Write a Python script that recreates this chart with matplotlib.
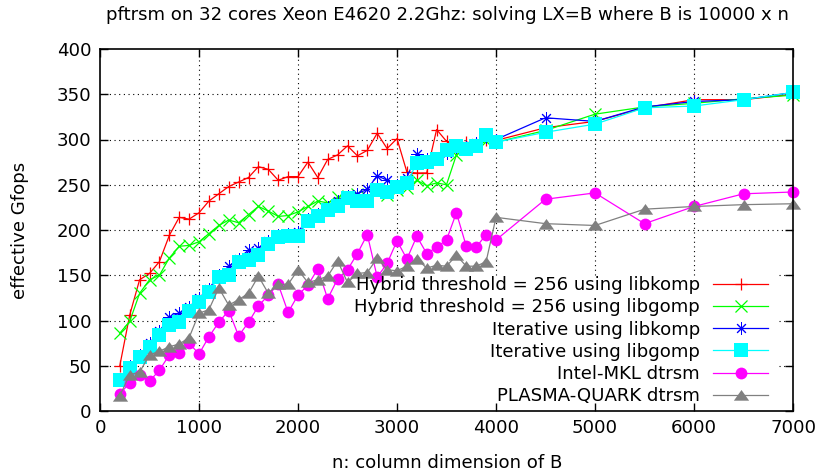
import matplotlib
matplotlib.use("Agg")
import matplotlib.pyplot as plt

n = [200, 300, 400, 500, 600, 700, 800, 900, 1000, 1100, 1200, 1300, 1400, 1500,
     1600, 1700, 1800, 1900, 2000, 2100, 2200, 2300, 2400, 2500, 2600, 2700, 2800,
     2900, 3000, 3100, 3200, 3300, 3400, 3500, 3600, 3700, 3800, 3900, 4000,
     4500, 5000, 5500, 6000, 6500, 7000]

hybrid_komp = [50, 106, 145, 152, 165, 194, 214, 212, 219, 232, 240, 248, 253, 258,
               270, 267, 255, 259, 259, 275, 258, 278, 283, 293, 282, 288, 307,
               290, 301, 264, 263, 263, 311, 298, 292, 297, 295, 300, 299,
               313, 320, 335, 344, 344, 350]
hybrid_gomp = [86, 99, 130, 145, 150, 169, 182, 183, 187, 196, 205, 211, 208, 217,
               226, 221, 215, 216, 220, 226, 232, 230, 236, 238, 240, 237, 243,
               239, 244, 246, 255, 249, 252, 250, 283, 290, 293, 298, 297,
               310, 328, 336, 340, 345, 349]
iter_komp = [35, 50, 62, 75, 88, 104, 108, 115, 125, 135, 150, 160, 168, 178,
             180, 188, 195, 196, 198, 212, 218, 225, 232, 238, 240, 245, 260,
             255, 250, 258, 284, 278, 280, 285, 292, 292, 296, 303, 300,
             324, 320, 336, 342, 344, 352]
iter_gomp = [34, 47, 60, 71, 84, 95, 98, 110, 120, 132, 148, 150, 165, 167,
             172, 185, 192, 193, 193, 210, 215, 222, 226, 235, 232, 232, 244,
             242, 248, 252, 274, 275, 278, 288, 293, 290, 293, 305, 297,
             308, 317, 335, 337, 344, 352]
mkl = [19, 31, 40, 33, 45, 62, 64, 75, 63, 82, 98, 111, 83, 98,
       116, 128, 140, 109, 128, 139, 157, 124, 146, 156, 174, 195, 148,
       163, 188, 168, 193, 174, 181, 189, 219, 182, 181, 195, 189,
       234, 241, 207, 226, 240, 242]
quark = [17, 40, 43, 62, 66, 71, 74, 81, 108, 112, 136, 117, 123, 130,
         149, 130, 140, 140, 156, 142, 145, 149, 166, 142, 152, 153, 169,
         156, 155, 160, 168, 158, 161, 160, 172, 160, 160, 165, 214,
         207, 205, 223, 226, 228, 229]

labels = ["Hybrid threshold = 256 using libkomp",
          "Hybrid threshold = 256 using libgomp",
          "Iterative using libkomp",
          "Iterative using libgomp",
          "Intel-MKL dtrsm",
          "PLASMA-QUARK dtrsm"]
xticks = [0, 1000, 2000, 3000, 4000, 5000, 6000, 7000]
yticks = [0, 50, 100, 150, 200, 250, 300, 350, 400]

plt.rcParams['font.family'] = ['DejaVu Sans']
FS = 13.1
W, H = 817, 475
fig = plt.figure(figsize=(W / 100, H / 100), dpi=100)
ax = fig.add_axes([100 / W, 1 - 411 / H, 693 / W, 362 / H])
ax.set_xlim(0, 7000)
ax.set_ylim(0, 400)

# grid (hidden behind the key area, like gnuplot)
gkw = dict(color='black', lw=0.8, ls=(0, (1, 3.2)), zorder=1)
key_x0, key_x1, key_y1 = 1790, 6855, 150.5
for yv in yticks[1:-1]:
    if yv <= key_y1:
        ax.plot([0, key_x0], [yv, yv], **gkw)
        ax.plot([key_x1, 7000], [yv, yv], **gkw)
    else:
        ax.plot([0, 7000], [yv, yv], **gkw)
for xv in xticks[1:-1]:
    if key_x0 <= xv <= key_x1:
        ax.plot([xv, xv], [key_y1, 400], **gkw)
    else:
        ax.plot([xv, xv], [0, 400], **gkw)

tri = [(-1, -0.68), (1, -0.68), (0, 0.72)]
styles = [
    dict(color='#ff0000', marker='+', ms=8.5, mew=0.9),
    dict(color='#00ff00', marker='x', ms=8, mew=0.9),
    dict(color='#0000ff', marker=(8, 2, 0), ms=9, mew=0.7),
    dict(color='#00ffff', marker='s', ms=10, mew=0),
    dict(color='#ff00ff', marker='o', ms=8.5, mew=0),
    dict(color='#808080', marker=tri, ms=11, mew=0),
]
series = [hybrid_komp, hybrid_gomp, iter_komp, iter_gomp, mkl, quark]
handles = []
for i, (s, st, lab) in enumerate(zip(series, styles, labels)):
    h, = ax.plot(n, s, lw=0.9, label=lab, zorder=3 + i, clip_on=False, **st)
    handles.append(h)

ax.set_xticks(xticks)
ax.set_yticks(yticks)
ax.tick_params(direction='in', length=6, width=1, top=True, right=True,
               labelsize=FS, pad=6, colors='black')
for sp in ax.spines.values():
    sp.set_linewidth(1.2)
    sp.set_zorder(20)

fig.text(447 / W, 1 - 463 / H, "n: column dimension of B", ha='center', va='center', fontsize=FS)
fig.text(20 / W, 1 - 230 / H, "effective Gfops", ha='center', va='center', fontsize=FS,
         rotation=90)
fig.text(447 / W, 1 - 15 / H, "pftrsm on 32 cores Xeon E4620 2.2Ghz: solving LX=B where B is 10000 x n",
         ha='center', va='center', fontsize=FS)

leg = ax.legend(handles=handles, loc='upper right', markerfirst=False, frameon=False,
                fontsize=FS, handlelength=3.0, handletextpad=0.75, labelspacing=0.235,
                borderpad=0, borderaxespad=0, numpoints=1,
                bbox_to_anchor=(768 / W, 1 - 276 / H), bbox_transform=fig.transFigure)
leg.set_zorder(30)
for t in leg.get_texts():
    t.set_ha('right')

fig.savefig("out.png", dpi=100)
